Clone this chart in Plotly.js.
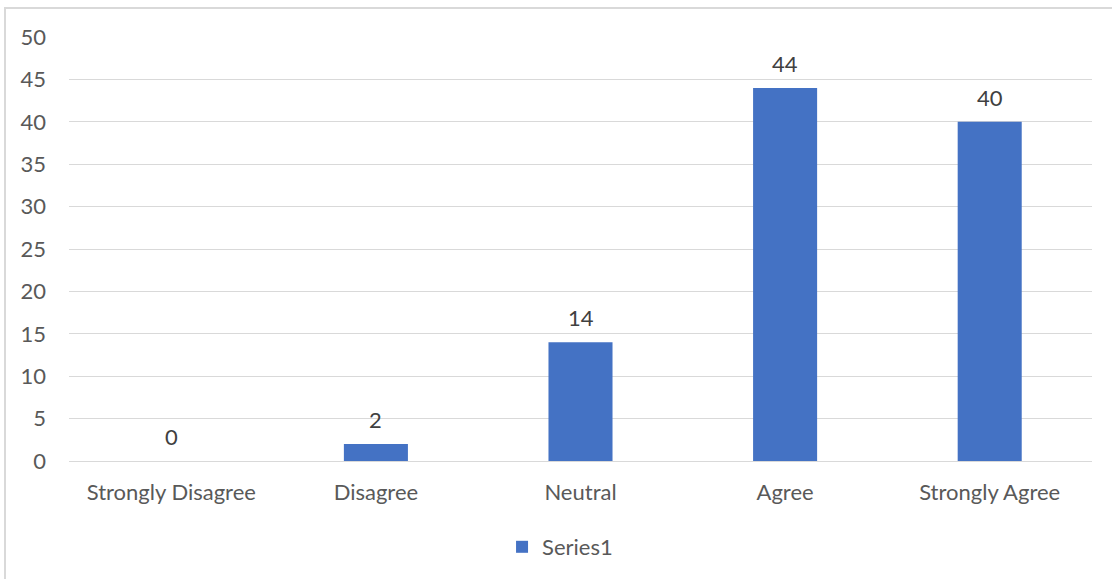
<!DOCTYPE html>
<html>
<head>
<meta charset="utf-8">
<script src="https://cdn.plot.ly/plotly-3.0.1.min.js"></script>
<style>
  html, body { margin: 0; padding: 0; background: #ffffff; overflow: hidden; }
  #frame { position: absolute; left: 4px; top: 7px; width: 1200px; height: 700px;
           border-left: 2px solid #d9d9d9; border-top: 2px solid #d9d9d9; box-sizing: border-box; }
  #chart { position: absolute; left: 0; top: 0; width: 1112px; height: 579px; }
</style>
</head>
<body>
<div id="frame"></div>
<div id="chart"></div>
<script>
// Response categories and counts
const categories = ["Strongly Disagree", "Disagree", "Neutral", "Agree", "Strongly Agree"];
const series1 = [0, 2, 14, 44, 40];
const seriesName = "Series1";
const yTicks = [0, 5, 10, 15, 20, 25, 30, 35, 40, 45, 50];

const FONT = "Lato, 'Open Sans', sans-serif";
const FS = 22;
const TEXT_GREY = "#595959";
const GRID = "#d9d9d9";
const BAR = "#4472c4";

const trace = {
  type: "bar",
  x: categories,
  y: series1,
  name: seriesName,
  marker: { color: BAR },
  hoverinfo: "x+y"
};

// Value labels above each bar
const labels = categories.map((c, i) => ({
  x: c, y: series1[i], xref: "x", yref: "y",
  text: String(series1[i]), showarrow: false,
  yanchor: "bottom", yshift: 9,
  font: { family: FONT, size: FS, color: "#404040" }
}));

const layout = {
  width: 1112, height: 579,
  margin: { l: 69, r: 20, t: 37, b: 117, pad: 0 },
  paper_bgcolor: "rgba(0,0,0,0)",
  plot_bgcolor: "rgba(0,0,0,0)",
  bargap: 0.687,
  showlegend: true,
  legend: {
    orientation: "h", x: 0.48, xanchor: "center", y: -0.2, yanchor: "middle",
    font: { family: FONT, size: FS, color: TEXT_GREY },
    itemwidth: 30
  },
  xaxis: {
    type: "category",
    showgrid: false, zeroline: false,
    showline: false, ticks: "",
    ticklabelstandoff: 16,
    tickfont: { family: FONT, size: FS, color: TEXT_GREY }
  },
  yaxis: {
    range: [0, 50],
    tickvals: yTicks,
    ticktext: yTicks.map(String),
    showgrid: true, gridcolor: GRID, gridwidth: 1,
    zeroline: true, zerolinecolor: GRID, zerolinewidth: 1,
    showline: false, ticks: "",
    ticklabelstandoff: 22,
    tickfont: { family: FONT, size: FS, color: TEXT_GREY }
  },
  annotations: labels
};

Plotly.newPlot("chart", [trace], layout, { staticPlot: true, displayModeBar: false });
</script>
</body>
</html>
